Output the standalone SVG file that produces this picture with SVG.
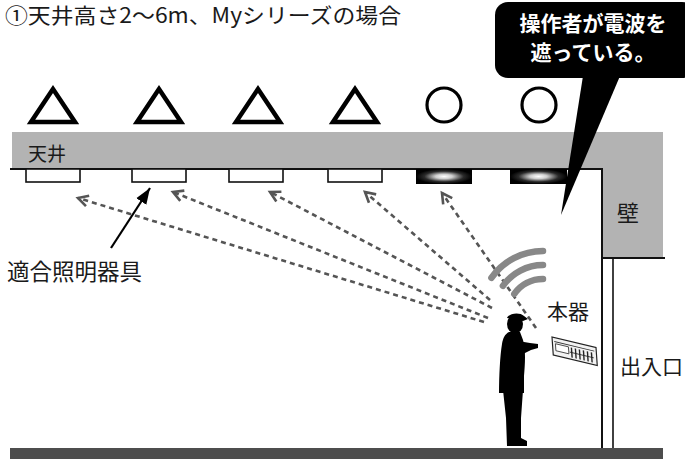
<svg xmlns="http://www.w3.org/2000/svg" width="685" height="459" viewBox="0 0 685 459">
  <style>
    .jp { font-family: "Noto Sans CJK JP", "Noto Sans", sans-serif; fill: #1a1a1a; }
    .band { fill: #b3b3b3; }
    .edge { stroke: #111; stroke-width: 2; fill: none; }
    .lamp { fill: #fff; stroke: #111; stroke-width: 1.6; }
    .lit { fill: url(#glow); }
    .tri { fill: none; stroke: #000; stroke-width: 4.5; stroke-linejoin: miter; }
    .ring { fill: none; stroke: #000; stroke-width: 3.2; }
    .ray { stroke: #555; stroke-width: 2.6; stroke-dasharray: 5 4; fill: none; marker-end: url(#chev); }
    .wave { fill: none; stroke: #888; stroke-width: 6.5; stroke-linecap: round; }
  </style>
  <defs>
    <radialGradient id="glow" cx="50%" cy="50%" r="50%">
      <stop offset="0" stop-color="#ffffff"/>
      <stop offset="0.3" stop-color="#cfcfcf"/>
      <stop offset="0.7" stop-color="#2a2a2a"/>
      <stop offset="1" stop-color="#000"/>
    </radialGradient>
    <marker id="chev" markerUnits="userSpaceOnUse" markerWidth="16" markerHeight="16" viewBox="-12 -8 16 16" refX="0" refY="0" orient="auto">
      <path d="M-10,-5.5 L0,0 L-10,5.5" fill="none" stroke="#555" stroke-width="2.6"/>
    </marker>
    <marker id="solid" markerUnits="userSpaceOnUse" markerWidth="20" markerHeight="16" viewBox="-16 -8 20 16" refX="0" refY="0" orient="auto">
      <path d="M-16,-6 L0,0 L-16,6 Z" fill="#000"/>
    </marker>
  </defs>

  <rect width="685" height="459" fill="#fff"/>

  <!-- heading -->
  <text class="jp" x="5" y="23" font-size="21" textLength="396" lengthAdjust="spacingAndGlyphs">①天井高さ2～6m、Myシリーズの場合</text>

  <!-- room: ceiling band, wall, floor -->
  <g id="room">
    <rect class="band" x="12" y="132" width="651" height="37"/>
    <rect class="band" x="603" y="132" width="60" height="126"/>
    <path class="edge" d="M10,169 H602 V448"/>
    <path class="edge" d="M602,258 H665"/>
    <path d="M613,258 V448" stroke="#111" stroke-width="1.6"/>
    <rect x="10" y="448" width="653" height="11" fill="#4d4d4d"/>
    <text class="jp" x="28" y="161" font-size="19">天井</text>
    <text class="jp" x="617" y="221" font-size="22">壁</text>
    <text class="jp" x="620" y="374" font-size="21">出入口</text>
  </g>

  <!-- ratings above each fixture -->
  <g id="marks">
    <path class="tri" d="M53,89 L31,122 H75 Z"/>
    <path class="tri" d="M159,89 L137,122 H181 Z"/>
    <path class="tri" d="M258,89 L236,122 H280 Z"/>
    <path class="tri" d="M355,89 L333,122 H377 Z"/>
    <circle class="ring" cx="444" cy="105" r="17"/>
    <circle class="ring" cx="539" cy="105" r="17"/>
  </g>

  <!-- ceiling fixtures -->
  <g id="fixture-1"><rect class="lamp" x="26" y="169" width="54" height="13"/></g>
  <g id="fixture-2"><rect class="lamp" x="132" y="169" width="54" height="13"/></g>
  <g id="fixture-3"><rect class="lamp" x="229" y="169" width="54" height="13"/></g>
  <g id="fixture-4"><rect class="lamp" x="328" y="169" width="54" height="13"/></g>
  <g id="fixture-5"><rect class="lit" x="416" y="169" width="56" height="15"/></g>
  <g id="fixture-6"><rect class="lit" x="510" y="169" width="57" height="15"/></g>

  <!-- signal paths -->
  <g id="connectors">
    <line class="ray" x1="484" y1="322" x2="78" y2="198"/>
    <line class="ray" x1="488" y1="318" x2="173" y2="192"/>
    <line class="ray" x1="492" y1="308" x2="270" y2="192"/>
    <line class="ray" x1="490" y1="300" x2="365" y2="192"/>
    <line class="ray" x1="536" y1="328" x2="442" y2="193"/>
    <line x1="111" y1="248" x2="150" y2="188" stroke="#000" stroke-width="2.2" marker-end="url(#solid)"/>
  </g>

  <!-- radio waves -->
  <g id="waves">
    <path class="wave" d="M491.4,277.9 A63,63 0 0 1 543,251"/>
    <path class="wave" d="M502.9,285.9 A49,49 0 0 1 543,265"/>
    <path class="wave" d="M514.3,293.9 A35,35 0 0 1 543,279"/>
  </g>

  <!-- label for the fixtures -->
  <g id="label-fixtures">
    <text class="jp" x="7" y="280" font-size="22.5">適合照明器具</text>
  </g>

  <!-- operator -->
  <g id="operator" fill="#000">
    <ellipse cx="515" cy="324" rx="8" ry="9.5"/>
    <path d="M507,318 C509,313 520,312 524,316 L528,319 L523,321 Z"/>
    <path d="M509,332 L520,332 L523,340 C526,350 525,364 524,376 L524,393 L499,393 C499,376 500,356 502,344 C503,338 505,334 509,332 Z"/>
    <path d="M518,341 L530,343 L538,344 L538,348 L531,350 L521,355 Z"/>
    <path d="M503,390 L523,390 L521,418 L521,438 L527,441 L527,446 L507,446 L506,418 Z"/>
  </g>

  <!-- transmitter -->
  <g id="device" transform="matrix(1,0.24,0.07,1,552,337)">
    <rect x="0" y="0" width="44" height="18" fill="#f2f2f2" stroke="#222" stroke-width="1.2"/>
    <line x1="2" y1="4" x2="42" y2="4" stroke="#333" stroke-width="0.9"/>
    <rect x="3" y="6" width="13" height="7" fill="#fff" stroke="#333" stroke-width="0.8"/>
    <g stroke="#222" stroke-width="1.4">
      <line x1="19" y1="6" x2="19" y2="16"/>
      <line x1="23" y1="6" x2="23" y2="16"/>
      <line x1="27" y1="6" x2="27" y2="16"/>
      <line x1="31" y1="6" x2="31" y2="16"/>
      <line x1="35" y1="6" x2="35" y2="16"/>
      <line x1="39" y1="6" x2="39" y2="16"/>
      <line x1="17" y1="11" x2="41" y2="11" stroke-width="0.8"/>
    </g>
  </g>
  <g id="label-device">
    <text class="jp" x="547" y="319" font-size="21">本器</text>
  </g>

  <!-- speech callout -->
  <g id="callout">
    <path d="M583,76 L620,76 L561,215 Z" fill="#000"/>
    <rect x="495" y="2" width="200" height="76" rx="13" fill="#000"/>
    <text x="593" y="31" font-size="21" font-weight="bold" text-anchor="middle" fill="#fff" font-family="Noto Sans CJK JP, sans-serif">操作者が電波を</text>
    <text x="593" y="60" font-size="21" font-weight="bold" text-anchor="middle" fill="#fff" font-family="Noto Sans CJK JP, sans-serif">遮っている。</text>
  </g>
</svg>
